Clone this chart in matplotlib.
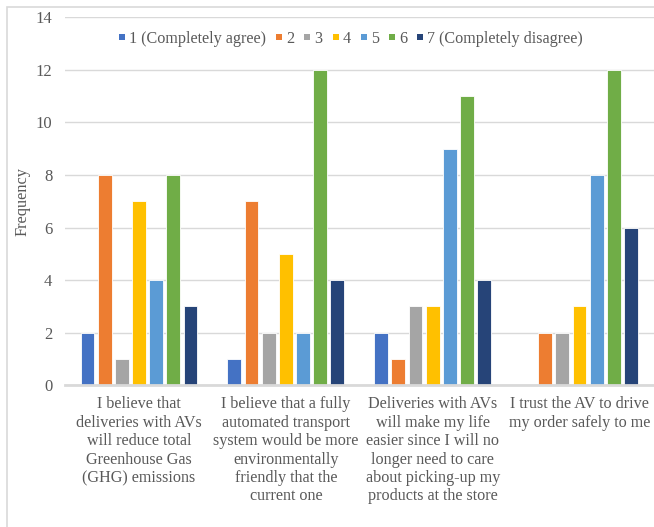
import matplotlib.pyplot as plt
import numpy as np
from matplotlib.patches import Rectangle
from matplotlib.lines import Line2D

plt.rcParams['font.family'] = ['Liberation Serif', 'DejaVu Serif']

# 问卷题目
statements = [
    'I believe that\ndeliveries with AVs\nwill reduce total\nGreenhouse Gas\n(GHG) emissions',
    'I believe that a fully\nautomated transport\nsystem would be more\nenvironmentally\nfriendly that the\ncurrent one',
    'Deliveries with AVs\nwill make my life\neasier since I will no\nlonger need to care\nabout picking-up my\nproducts at the store',
    'I trust the AV to drive\nmy order safely to me',
]

# 量表等级
levels = ['1 (Completely agree)', '2', '3', '4', '5', '6', '7 (Completely disagree)']

# 每个等级的频数
freq_1 = [2, 1, 2, 0]
freq_2 = [8, 7, 1, 2]
freq_3 = [1, 2, 3, 2]
freq_4 = [7, 5, 3, 3]
freq_5 = [4, 2, 9, 8]
freq_6 = [8, 12, 11, 12]
freq_7 = [3, 4, 4, 6]

colors = ['#4472C4', '#ED7D31', '#A5A5A5', '#FFC000', '#5B9BD5', '#70AD47', '#264478']

text_color = '#595959'
grid_color = '#D9D9D9'

fig = plt.figure(figsize=(6.54, 5.27), dpi=100)
W, H = 654, 527

# 外边框
fig.patches.append(Rectangle((6.5 / W, -0.1), 1.2, (527 - 7) / H + 0.1,
                             transform=fig.transFigure, fill=False,
                             edgecolor=grid_color, linewidth=1.2))

ax = fig.add_axes([65 / W, 1 - 385.3 / H, (654 - 65) / W, (385.3 - 17.3) / H])

all_freq = [freq_1, freq_2, freq_3, freq_4, freq_5, freq_6, freq_7]
x = np.arange(len(statements))
pitch = 0.117
width = 0.094
for k, (vals, c, name) in enumerate(zip(all_freq, colors, levels)):
    ax.bar(x + (k - 3) * pitch, vals, width, color=c, label=name,
           edgecolor='white', linewidth=0.6, zorder=3)

ax.set_xlim(-0.504, 3.507)
ax.set_ylim(0, 14)
ax.set_yticks(range(0, 15, 2))
ax.yaxis.grid(True, color=grid_color, linewidth=1, zorder=0)
ax.set_xticks(x)
ax.set_xticklabels(statements, fontsize=11.6, color=text_color, linespacing=1.2)
ax.tick_params(axis='x', length=0, pad=8)
ax.tick_params(axis='y', length=0, labelsize=12, labelcolor=text_color, pad=9)

for side in ['top', 'right', 'left']:
    ax.spines[side].set_visible(False)
ax.spines['bottom'].set_color(grid_color)
ax.spines['bottom'].set_linewidth(2)
ax.spines['bottom'].set_zorder(4)

fig.text(22.5 / W, 1 - 202 / H, 'Frequency', rotation=90, ha='center', va='center',
         fontsize=11.8, color=text_color)

# 图例用小方块
handles = [Line2D([], [], linestyle='none', marker='s', markersize=4.2,
                  markerfacecolor=c, markeredgewidth=0) for c in colors]
leg = ax.legend(handles, levels, loc='center', bbox_to_anchor=(351 / W, 1 - 39 / H),
                bbox_transform=fig.transFigure, ncol=7, frameon=False,
                fontsize=11.6, handlelength=0.4, handletextpad=0.25,
                columnspacing=0.6, borderaxespad=0)
for t in leg.get_texts():
    t.set_color(text_color)

fig.savefig('out.png', dpi=100)
